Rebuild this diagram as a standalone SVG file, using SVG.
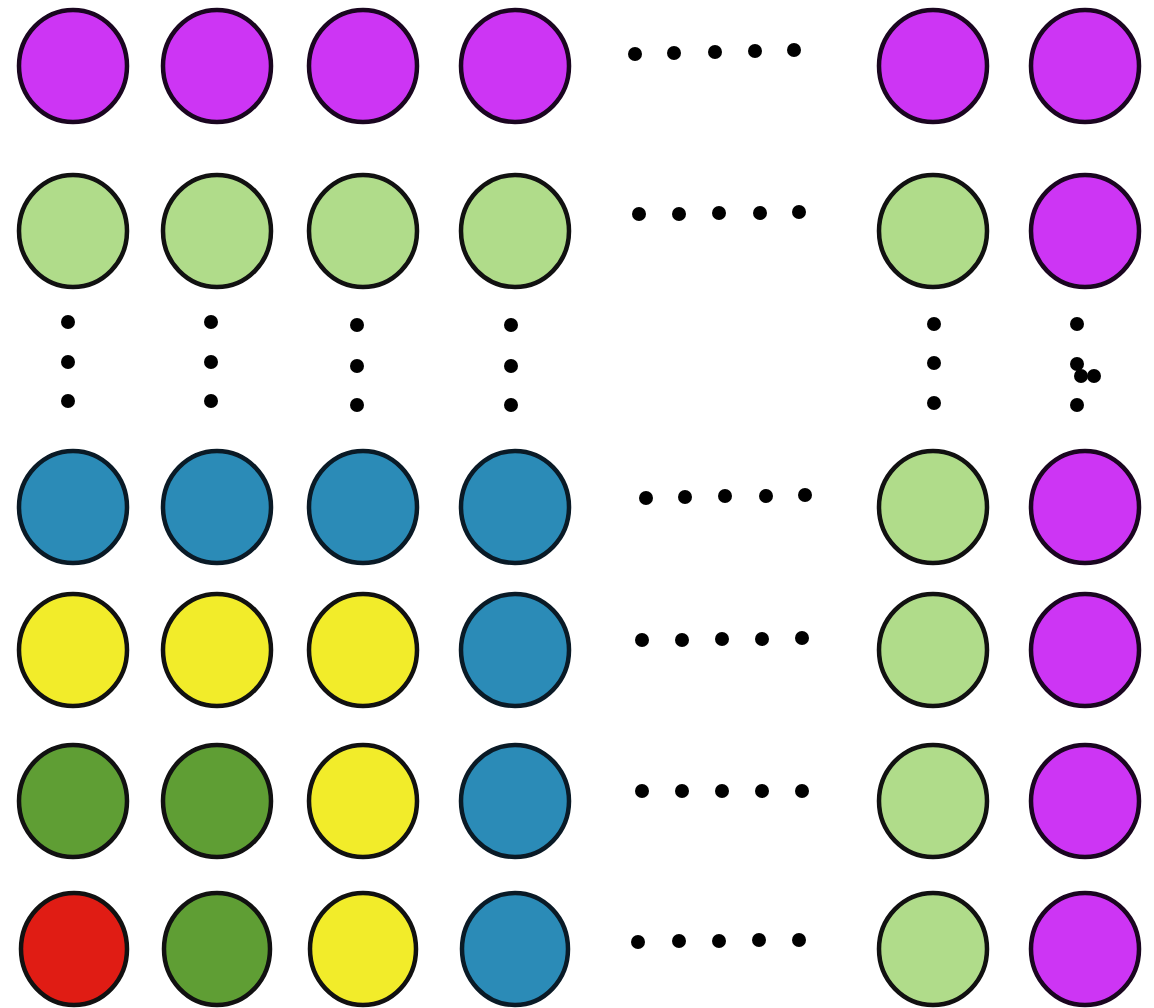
<svg xmlns="http://www.w3.org/2000/svg" width="1154" height="1008" viewBox="0 0 1154 1008">
<style>
.n{stroke:#111;stroke-width:4.5}
.m{fill:#cd35f4;stroke:#1a0620}
.lg{fill:#b0dc8a}
.b{fill:#2b8bb7;stroke:#0a1a26}
.y{fill:#f2ec2a}
.dg{fill:#5f9e34}
.r{fill:#e01c14}
.d{fill:#000}
</style>
<rect width="1154" height="1008" fill="#fff"/>
<g id="row1">
<ellipse id="n1_1" class="n m" cx="73" cy="66" rx="54" ry="56"/>
<ellipse id="n1_2" class="n m" cx="217" cy="66" rx="54" ry="56"/>
<ellipse id="n1_3" class="n m" cx="363" cy="66" rx="54" ry="56"/>
<ellipse id="n1_4" class="n m" cx="515" cy="66" rx="54" ry="56"/>
<ellipse id="n1_5" class="n m" cx="933" cy="66" rx="54" ry="56"/>
<ellipse id="n1_6" class="n m" cx="1085" cy="66" rx="54" ry="56"/>
</g>
<g id="row2">
<ellipse id="n2_1" class="n lg" cx="73" cy="231" rx="54" ry="56"/>
<ellipse id="n2_2" class="n lg" cx="217" cy="231" rx="54" ry="56"/>
<ellipse id="n2_3" class="n lg" cx="363" cy="231" rx="54" ry="56"/>
<ellipse id="n2_4" class="n lg" cx="515" cy="231" rx="54" ry="56"/>
<ellipse id="n2_5" class="n lg" cx="933" cy="231" rx="54" ry="56"/>
<ellipse id="n2_6" class="n m" cx="1085" cy="231" rx="54" ry="56"/>
</g>
<g id="row3">
<ellipse id="n3_1" class="n b" cx="73" cy="507" rx="54" ry="56"/>
<ellipse id="n3_2" class="n b" cx="217" cy="507" rx="54" ry="56"/>
<ellipse id="n3_3" class="n b" cx="363" cy="507" rx="54" ry="56"/>
<ellipse id="n3_4" class="n b" cx="515" cy="507" rx="54" ry="56"/>
<ellipse id="n3_5" class="n lg" cx="933" cy="507" rx="54" ry="56"/>
<ellipse id="n3_6" class="n m" cx="1085" cy="507" rx="54" ry="56"/>
</g>
<g id="row4">
<ellipse id="n4_1" class="n y" cx="73" cy="650" rx="54" ry="56"/>
<ellipse id="n4_2" class="n y" cx="217" cy="650" rx="54" ry="56"/>
<ellipse id="n4_3" class="n y" cx="363" cy="650" rx="54" ry="56"/>
<ellipse id="n4_4" class="n b" cx="515" cy="650" rx="54" ry="56"/>
<ellipse id="n4_5" class="n lg" cx="933" cy="650" rx="54" ry="56"/>
<ellipse id="n4_6" class="n m" cx="1085" cy="650" rx="54" ry="56"/>
</g>
<g id="row5">
<ellipse id="n5_1" class="n dg" cx="73" cy="801" rx="54" ry="56"/>
<ellipse id="n5_2" class="n dg" cx="217" cy="801" rx="54" ry="56"/>
<ellipse id="n5_3" class="n y" cx="363" cy="801" rx="54" ry="56"/>
<ellipse id="n5_4" class="n b" cx="515" cy="801" rx="54" ry="56"/>
<ellipse id="n5_5" class="n lg" cx="933" cy="801" rx="54" ry="56"/>
<ellipse id="n5_6" class="n m" cx="1085" cy="801" rx="54" ry="56"/>
</g>
<g id="row6">
<ellipse id="n6_1" class="n r" cx="74" cy="949" rx="53" ry="56"/>
<ellipse id="n6_2" class="n dg" cx="217" cy="949" rx="53" ry="56"/>
<ellipse id="n6_3" class="n y" cx="363" cy="949" rx="53" ry="56"/>
<ellipse id="n6_4" class="n b" cx="515" cy="949" rx="53" ry="56"/>
<ellipse id="n6_5" class="n lg" cx="933" cy="949" rx="54" ry="56"/>
<ellipse id="n6_6" class="n m" cx="1085" cy="949" rx="54" ry="56"/>
</g>
<g id="connectors">
<g id="hdots" class="d">
<circle cx="635" cy="54" r="7"/><circle cx="674" cy="53" r="7"/><circle cx="715" cy="52" r="7"/><circle cx="755" cy="51" r="7"/><circle cx="794" cy="50" r="7"/>
<circle cx="639" cy="214" r="7"/><circle cx="679" cy="214" r="7"/><circle cx="719" cy="213" r="7"/><circle cx="760" cy="213" r="7"/><circle cx="799" cy="212" r="7"/>
<circle cx="646" cy="498" r="7"/><circle cx="685" cy="497" r="7"/><circle cx="725" cy="496" r="7"/><circle cx="766" cy="496" r="7"/><circle cx="805" cy="495" r="7"/>
<circle cx="642" cy="640" r="7"/><circle cx="682" cy="640" r="7"/><circle cx="722" cy="639" r="7"/><circle cx="762" cy="639" r="7"/><circle cx="802" cy="638" r="7"/>
<circle cx="642" cy="791" r="7"/><circle cx="682" cy="791" r="7"/><circle cx="722" cy="791" r="7"/><circle cx="762" cy="791" r="7"/><circle cx="802" cy="791" r="7"/>
<circle cx="638" cy="942" r="7"/><circle cx="679" cy="941" r="7"/><circle cx="719" cy="941" r="7"/><circle cx="759" cy="940" r="7"/><circle cx="799" cy="940" r="7"/>
</g>
<g id="vdots" class="d">
<circle cx="68" cy="322" r="7"/><circle cx="68" cy="362" r="7"/><circle cx="68" cy="401" r="7"/>
<circle cx="211" cy="322" r="7"/><circle cx="211" cy="362" r="7"/><circle cx="211" cy="401" r="7"/>
<circle cx="357" cy="325" r="7"/><circle cx="357" cy="366" r="7"/><circle cx="357" cy="405" r="7"/>
<circle cx="511" cy="325" r="7"/><circle cx="511" cy="366" r="7"/><circle cx="511" cy="405" r="7"/>
<circle cx="934" cy="324" r="7"/><circle cx="934" cy="363" r="7"/><circle cx="934" cy="403" r="7"/>
<circle cx="1077" cy="324" r="7"/><circle cx="1077" cy="364" r="7"/><circle cx="1081" cy="376" r="7"/><circle cx="1094" cy="376" r="7"/><circle cx="1077" cy="405" r="7"/>
</g>
</g>
</svg>
